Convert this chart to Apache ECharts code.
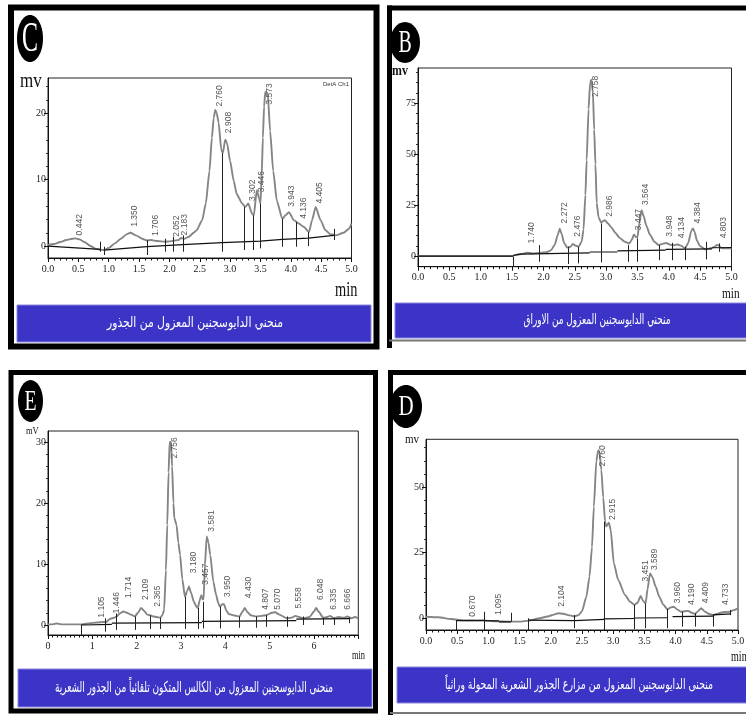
<!DOCTYPE html>
<html><head><meta charset="utf-8">
<script src="https://cdn.jsdelivr.net/npm/echarts@6/dist/echarts.min.js"></script>
<style>html,body{margin:0;padding:0;background:#fff}#c{width:746px;height:715px}</style>
</head><body><div id="c"></div>
<script>
// ---------- Panel C (roots) ----------
const C_curve = [[0.00,0.15],[0.10,0.3],[0.20,0.6],[0.30,0.9],[0.40,1.1],[0.45,1.15],[0.52,1.0],[0.60,0.6],[0.70,0.0],[0.78,-0.4],[0.86,-0.55],[0.92,-0.6],[1.00,-0.3],[1.10,0.4],[1.20,1.1],[1.30,1.8],[1.36,2.0],[1.45,1.6],[1.55,1.1],[1.63,0.85],[1.70,0.9],[1.80,0.75],[1.93,0.65],[2.00,0.7],[2.07,0.8],[2.15,0.9],[2.19,1.2],[2.25,1.1],[2.32,1.4],[2.40,2.0],[2.45,2.4],[2.54,3.9],[2.60,6.4],[2.66,11.3],[2.70,16.3],[2.73,19.3],[2.755,20.5],[2.78,20.0],[2.81,18.6],[2.855,14.5],[2.88,14.0],[2.92,16.0],[2.95,15.5],[3.00,12.8],[3.06,9.8],[3.11,7.8],[3.20,6.4],[3.25,5.9],[3.30,6.4],[3.36,4.9],[3.39,4.6],[3.44,8.4],[3.48,7.1],[3.50,6.4],[3.52,10.5],[3.54,16.3],[3.56,21],[3.58,23.2],[3.62,23.0],[3.66,17.3],[3.71,11.3],[3.77,6.8],[3.86,4.1],[3.92,4.7],[3.97,5.1],[4.05,3.9],[4.13,3.4],[4.21,2.9],[4.30,2.1],[4.35,3.9],[4.41,5.9],[4.49,3.9],[4.57,2.4],[4.65,1.8],[4.74,1.6],[4.87,2.0],[4.96,2.6],[5.00,3.4]];
const C_base = [[[0,0],[0.86,-0.5]],[[0.92,-0.6],[1.63,-0.1],[2.22,0.2],[2.87,0.5],[3.50,0.75],[3.86,1.0],[4.29,1.2],[4.71,1.6]]];
const C_drops = [[0.86,-0.85,0.65],[0.92,-1.35,-0.1],[1.63,-1.35,0.9],[1.93,-0.85,1.1],[2.07,-0.85,1.4],[2.22,-0.85,1.6],[2.87,-0.85,14.0],[3.24,-0.6,5.9],[3.38,-0.6,4.6],[3.50,-0.35,6.4],[3.86,-0.1,4.1],[4.09,-0.1,3.6],[4.29,0,2.1],[4.71,0.9,2.6]];
const C_peaks = [[0.442,1.6,'0.442'],[1.350,2.9,'1.350'],[1.706,1.5,'1.706'],[2.052,1.4,'2.052'],[2.183,1.6,'2.183'],[2.760,21.0,'2.760'],[2.908,17.0,'2.908'],[3.302,6.8,'3.302'],[3.446,8.1,'3.446'],[3.573,21.3,'3.573'],[3.943,5.9,'3.943'],[4.136,4.1,'4.136'],[4.405,6.4,'4.405']];
const C_yTicks = [0,10,20];
const C_yMinor = [2,4,6,8,12,14,16,18,22,24];

// ---------- Panel B (leaves) ----------
const B_curve = [[0,0],[0.5,0],[1.0,0],[1.5,0],[1.55,0.6],[1.65,1.0],[1.74,1.7],[1.82,1.3],[1.95,1.6],[2.05,1.9],[2.12,2.8],[2.18,5.5],[2.23,10.5],[2.26,13.4],[2.29,11],[2.33,6.5],[2.38,4.2],[2.43,4.5],[2.47,5.9],[2.51,5.2],[2.56,4.6],[2.61,7.0],[2.64,13],[2.67,30],[2.69,47],[2.72,72],[2.745,85],[2.765,86.5],[2.79,80],[2.81,62],[2.83,45],[2.85,26],[2.88,19],[2.92,16.5],[2.98,17.6],[3.03,16],[3.08,14.2],[3.15,11.3],[3.22,8.8],[3.30,7.0],[3.37,6.2],[3.41,8],[3.445,10.6],[3.47,9.5],[3.50,9.2],[3.53,16],[3.565,22.5],[3.60,19.5],[3.64,15],[3.70,10.5],[3.77,7],[3.84,5.4],[3.90,6.0],[3.96,6.4],[4.02,5.6],[4.08,5.3],[4.14,5.7],[4.20,5.0],[4.26,3.8],[4.31,6.5],[4.36,12.5],[4.385,13.6],[4.41,12],[4.45,7.5],[4.50,4.8],[4.58,3.3],[4.65,3.8],[4.72,4.3],[4.77,5.5],[4.80,5.2],[4.83,3.9],[4.9,3.8],[5.0,3.8]];
const B_base = [[[0,0],[1.52,0]],[[1.52,0.3],[1.63,1.0],[2.74,1.6]],[[2.74,2.0],[3.18,2.0]],[[3.18,2.6],[3.95,2.9]],[[3.95,3.3],[4.69,3.5]],[[4.69,4.1],[5.0,4.2]]];
const B_drops = [[1.52,-4.9,-0.3],[1.94,-2.8,5.4],[2.40,-3.9,4.6],[2.55,-3.6,4.6],[2.92,-3.1,16],[3.36,-2.8,5.4],[3.49,-2.8,8.7],[3.84,-2.0,5.4],[4.05,-2.0,6.5],[4.26,-2.0,4.6],[4.60,-1.6,7.0],[4.80,2.1,6.2]];
const B_peaks = [[1.740,6.2,'1.740'],[2.272,16,'2.272'],[2.476,9.5,'2.476'],[2.758,78,'2.758'],[2.986,19.3,'2.986'],[3.447,12.7,'3.447'],[3.564,25,'3.564'],[3.948,9.5,'3.948'],[4.134,8.7,'4.134'],[4.384,16,'4.384'],[4.803,8.7,'4.803']];
const B_yTicks = [0,25,50,75];
const B_yMinor = [5,10,15,20,30,35,40,45,55,60,65,70,80,85,90];

// ---------- Panel E (callus) ----------
const E_curve = [[0,0.1],[0.1,0.1],[0.2,0.25],[0.3,0.1],[0.5,0.1],[0.76,0.1],[0.95,0.3],[1.1,0.4],[1.25,0.5],[1.32,0.5],[1.38,0.9],[1.44,1.1],[1.50,1.2],[1.55,1.4],[1.62,1.9],[1.70,2.2],[1.78,2.0],[1.87,1.7],[1.96,1.4],[2.03,2.0],[2.10,2.8],[2.17,2.3],[2.24,1.7],[2.30,1.6],[2.38,1.4],[2.45,1.3],[2.53,1.2],[2.58,1.6],[2.62,2.5],[2.66,9],[2.69,16.4],[2.72,25],[2.745,30],[2.775,30],[2.80,26],[2.83,20],[2.85,17.5],[2.90,16.4],[2.94,13.5],[2.98,11.5],[3.03,7.5],[3.09,4.6],[3.14,5.6],[3.18,6.3],[3.23,5.2],[3.29,3.8],[3.35,3.0],[3.38,2.8],[3.42,4.0],[3.46,4.9],[3.49,4.2],[3.51,4.2],[3.54,9.8],[3.58,14.5],[3.62,13.5],[3.66,11.5],[3.73,7.1],[3.79,5.0],[3.84,3.6],[3.88,3.0],[3.93,3.4],[3.97,3.4],[4.02,2.4],[4.08,1.8],[4.18,1.6],[4.32,1.4],[4.39,2.2],[4.44,2.8],[4.50,2.1],[4.57,1.6],[4.70,1.4],[4.82,1.5],[4.92,1.6],[5.05,2.0],[5.12,2.1],[5.22,1.7],[5.39,1.1],[5.50,1.2],[5.58,1.5],[5.66,1.3],[5.76,1.1],[5.90,1.3],[6.00,2.2],[6.05,2.8],[6.10,2.2],[6.21,1.2],[6.30,1.3],[6.36,1.5],[6.45,1.1],[6.55,1.3],[6.68,1.2],[6.75,1.4],[6.85,1.1],[6.92,1.3],[7.0,1.1]];
const E_base = [[[0.76,0],[1.44,0.1]],[[1.44,0.3],[3.47,0.4]],[[3.47,0.6],[5.60,0.7]],[[5.60,0.95],[6.82,1.05]]];
const E_drops = [[0.76,-1.6,0.1],[1.30,-1.1,1.1],[1.55,-0.8,1.9],[1.96,-0.8,1.4],[2.30,-0.65,1.6],[2.53,-0.65,1.2],[3.09,-0.65,4.6],[3.38,-0.65,2.8],[3.51,-0.55,3.8],[3.88,-0.55,3.0],[4.32,-0.45,1.4],[4.70,-0.45,1.4],[4.92,-0.3,1.6],[5.39,-0.3,1.4],[5.76,0,1.4],[6.21,0,1.2],[6.45,0,1.2],[6.80,0.3,1.2]];
const E_peaks = [[1.105,1.2,'1.105'],[1.446,1.9,'1.446'],[1.714,4.4,'1.714'],[2.109,4.1,'2.109'],[2.365,3.0,'2.365'],[2.756,27.3,'2.756'],[3.180,8.5,'3.180'],[3.457,6.6,'3.457'],[3.581,15.3,'3.581'],[3.950,4.6,'3.950'],[4.430,4.4,'4.430'],[4.807,2.5,'4.807'],[5.070,2.5,'5.070'],[5.558,2.7,'5.558'],[6.048,4.1,'6.048'],[6.335,2.5,'6.335'],[6.666,2.5,'6.666']];
const E_yTicks = [0,10,20,30];
const E_yMinor = [2,4,6,8,12,14,16,18,22,24,26,28];

// ---------- Panel D (hairy roots) ----------
const D_curve = [[0,0.5],[0.2,0.3],[0.4,-0.4],[0.6,-0.9],[0.8,-1.0],[0.95,-1.0],[1.15,-1.3],[1.3,-1.4],[1.5,-1.4],[1.65,-1.0],[1.8,-0.2],[1.95,0.6],[2.05,1.3],[2.12,1.8],[2.2,1.6],[2.3,1.0],[2.38,0.6],[2.45,1.2],[2.5,2.6],[2.57,8.1],[2.62,15.8],[2.66,27],[2.69,42.5],[2.73,60],[2.76,64],[2.78,63.5],[2.81,56.5],[2.84,46],[2.87,36.8],[2.89,34.9],[2.93,36.4],[2.96,33.6],[3.01,20.9],[3.08,14.5],[3.19,8.8],[3.27,6.2],[3.34,5.0],[3.39,5.8],[3.44,8.4],[3.48,6.5],[3.52,5.6],[3.55,11],[3.59,17],[3.63,15.5],[3.68,12],[3.74,8],[3.80,5.2],[3.87,3.3],[3.92,4.0],[3.97,4.3],[4.03,3.2],[4.09,2.4],[4.15,2.6],[4.20,2.7],[4.26,2.0],[4.31,1.5],[4.36,2.6],[4.41,3.7],[4.46,2.6],[4.53,1.6],[4.60,1.1],[4.67,1.6],[4.73,2.1],[4.80,2.3],[4.87,2.4],[4.93,3.0],[5.0,3.7]];
const D_base = [[[0.49,-1.0],[0.93,-0.9]],[[0.93,-1.0],[1.17,-1.1]],[[1.17,-1.5],[1.36,-1.5]],[[1.64,-0.8],[2.38,-1.0],[2.86,-0.5]],[[2.86,-0.3],[3.34,-0.2]],[[3.34,0.0],[3.87,0.1]],[[3.95,0.5],[4.60,0.7]],[[4.60,1.2],[4.89,1.6]]];
const D_drops = [[0.49,-4.6,-0.8],[0.93,-4.6,2.4],[1.36,-1.4,2.0],[1.64,-4.6,-0.1],[2.37,-3.9,1.1],[2.86,-4.6,36.8],[3.34,-4.3,5.0],[3.52,-3.9,5.6],[3.87,-3.9,3.5],[4.10,-3.3,2.4],[4.31,-3.3,1.8],[4.60,-3.3,1.5],[4.88,1.1,3.1]];
const D_peaks = [[0.670,0.5,'0.670'],[1.095,1.1,'1.095'],[2.104,4.3,'2.104'],[2.760,57.8,'2.760'],[2.915,37.4,'2.915'],[3.451,13.9,'3.451'],[3.589,18.3,'3.589'],[3.960,5.6,'3.960'],[4.190,5.0,'4.190'],[4.409,5.6,'4.409'],[4.733,5.0,'4.733']];
const D_yTicks = [0,25,50];
const D_yMinor = [5,10,15,20,30,35,40,45,55,60,65];

const captions = {
  C: 'منحني الدايوسجنين المعزول من الجذور',
  B: 'منحني الدايوسجنين المعزول من الاوراق',
  E: 'منحنى الدايوسجنين المعزول من الكالس المتكون تلقائياً من الجذور الشعرية',
  D: 'منحنى الدايوسجنين المعزول من مزارع الجذور الشعرية المحولة وراثياً'
};

const panels = [
  {grid:{left:48,top:78,width:303.5,height:180}, xmax:5, xint:0.5, xsplit:5, xfmt:v=>v.toFixed(1), ymin:-1.8, ymax:25.3, yT:C_yTicks, yM:C_yMinor, curve:C_curve, base:C_base, drops:C_drops, peaks:C_peaks},
  {grid:{left:418,top:68,width:313.5,height:198.7}, xmax:5, xint:0.5, xsplit:5, xfmt:v=>v.toFixed(1), ymin:-5.2, ymax:92.2, yT:B_yTicks, yM:B_yMinor, curve:B_curve, base:B_base, drops:B_drops, peaks:B_peaks},
  {grid:{left:48,top:431,width:310.3,height:204}, xmax:7, xint:1, xsplit:10, xfmt:v=>v===7?'':String(v), ymin:-1.64, ymax:31.8, yT:E_yTicks, yM:E_yMinor, curve:E_curve, base:E_base, drops:E_drops, peaks:E_peaks},
  {grid:{left:426,top:439.3,width:312,height:190.7}, xmax:5, xint:0.5, xsplit:5, xfmt:v=>v.toFixed(1), ymin:-4.58, ymax:68.2, yT:D_yTicks, yM:D_yMinor, curve:D_curve, base:D_base, drops:D_drops, peaks:D_peaks}
];

const grids=[], xAxes=[], yAxes=[], series=[];
const serif = 'Liberation Serif';
panels.forEach((p,i)=>{
  grids.push(Object.assign({show:true,borderColor:'#222',borderWidth:1,backgroundColor:'transparent',containLabel:false,outerBoundsMode:'none'}, p.grid));
  xAxes.push({type:'value',gridIndex:i,min:0,max:p.xmax,interval:p.xint,
    axisLine:{show:true,onZero:false,lineStyle:{color:'#111',width:1}},
    axisTick:{show:true,length:4,lineStyle:{color:'#111'}},
    minorTick:{show:true,splitNumber:p.xsplit,length:2.5,lineStyle:{color:'#111'}},
    splitLine:{show:false},minorSplitLine:{show:false},
    axisLabel:{formatter:p.xfmt,fontFamily:serif,fontSize:10,color:'#222',margin:6,showMinLabel:true,showMaxLabel:true}});
  yAxes.push({type:'value',gridIndex:i,min:p.ymin,max:p.ymax,position:'left',
    axisLine:{show:true,onZero:false,lineStyle:{color:'#111',width:1}},
    axisTick:{show:true,length:4,customValues:p.yT,lineStyle:{color:'#111'}},
    axisLabel:{customValues:p.yT,fontFamily:serif,fontSize:10,color:'#222',margin:2},
    splitLine:{show:false}});
  yAxes.push({type:'value',gridIndex:i,min:p.ymin,max:p.ymax,position:'left',
    axisLine:{show:false},
    axisTick:{show:true,length:2,customValues:p.yM,lineStyle:{color:'#333'}},
    axisLabel:{show:false},splitLine:{show:false}});
  series.push({type:'line',xAxisIndex:i,yAxisIndex:2*i,data:p.curve,showSymbol:false,symbol:'none',smooth:0.2,smoothMonotone:'x',
    lineStyle:{color:'#858585',width:1.9},z:2,silent:true});
  series.push({type:'lines',coordinateSystem:'cartesian2d',xAxisIndex:i,yAxisIndex:2*i,polyline:true,
    data:p.base.map(s=>({coords:s})),lineStyle:{color:'#111',width:1.2,opacity:1},z:3,silent:true});
  series.push({type:'lines',coordinateSystem:'cartesian2d',xAxisIndex:i,yAxisIndex:2*i,
    data:p.drops.map(d=>({coords:[[d[0],d[1]],[d[0],d[2]]]})),lineStyle:{color:'#222',width:1,opacity:1},z:3,silent:true});
  const pk = p.peaks;
  series.push({type:'custom',xAxisIndex:i,yAxisIndex:2*i,data:pk.map(q=>[q[0],q[1]]),clip:false,silent:true,z:5,
    renderItem:(params,api)=>{
      const pt = api.coord([api.value(0),api.value(1)]);
      return {type:'text',x:pt[0],y:pt[1],rotation:Math.PI/2,
        style:{text:pk[params.dataIndex][2],fill:'#555',fontSize:8.5,fontFamily:'Liberation Sans',align:'left',verticalAlign:'top'}};
    }});
});

const blue = '#3b34c6';
const measureCtx = document.createElement('canvas').getContext('2d');
function fitScale(txt,fs,target){
  measureCtx.font = fs+'px "DejaVu Sans"';
  const w = measureCtx.measureText(txt).width || target;
  return target / w;
}
function banner(x,y,w,h,txt,fs,cx,target){
  const sx = fitScale(txt,fs,target);
  return [
    {type:'rect',shape:{x:x,y:y,width:w,height:h},style:{fill:blue,stroke:'#8c88dd',lineWidth:1},z:1},
    {type:'text',x:cx,y:y+h/2,scaleX:sx,style:{text:txt,fill:'#fff',fontSize:fs,fontFamily:'DejaVu Sans',align:'center',verticalAlign:'middle'},z:2}
  ];
}
function badge(cx,cy,rx,ry,letter,fs,sx){
  return [
    {type:'ellipse',shape:{cx:cx,cy:cy,rx:rx,ry:ry},style:{fill:'#000'},z:1},
    {type:'text',x:cx,y:cy+1,scaleX:sx,style:{text:letter,fill:'#fff',fontSize:fs,fontFamily:serif,align:'center',verticalAlign:'middle'},z:2}
  ];
}
function label(x,y,txt,fs,sx,bold){
  return {type:'text',x:x,y:y,scaleX:sx,style:{text:txt,fill:'#111',fontSize:fs,fontFamily:serif,fontWeight:bold?'bold':'normal',align:'left',verticalAlign:'middle'},z:2};
}

const graphics = [
  {type:'rect',shape:{x:11,y:7.5,width:365.5,height:339},style:{fill:'none',stroke:'#000',lineWidth:6},z:1},
  {type:'line',shape:{x1:387,y1:8,x2:746,y2:8},style:{stroke:'#000',lineWidth:5},z:1},
  {type:'line',shape:{x1:389.5,y1:5.5,x2:389.5,y2:348},style:{stroke:'#000',lineWidth:5},z:1},
  {type:'line',shape:{x1:389,y1:340.5,x2:746,y2:340.5},style:{stroke:'#777',lineWidth:2},z:1},
  {type:'rect',shape:{x:11,y:372.5,width:364.5,height:338.5},style:{fill:'none',stroke:'#000',lineWidth:5},z:1},
  {type:'line',shape:{x1:388,y1:372.5,x2:746,y2:372.5},style:{stroke:'#000',lineWidth:5},z:1},
  {type:'line',shape:{x1:390.5,y1:370,x2:390.5,y2:715},style:{stroke:'#000',lineWidth:5},z:1},
  {type:'line',shape:{x1:390,y1:713,x2:746,y2:713},style:{stroke:'#777',lineWidth:2},z:1},
  ...badge(30,38.5,13,23.5,'C',42,0.57),
  ...badge(405,42.5,15,20.5,'B',32,0.62),
  ...badge(30.5,401,12.5,21,'E',30,0.66),
  ...badge(406,406.5,16,21.5,'D',30,0.7),
  ...banner(17,305,354,37,captions.C,14,195,176),
  ...banner(395,303,360,35,captions.B,14,597,147),
  ...banner(18,669,354,38,captions.E,15,194,278),
  ...banner(397,667,360,36,captions.D,14,579,268),
  label(20,82,'mv',20,0.85,false),
  label(335,291,'min',20,0.72,false),
  label(392,71,'mv',14,0.85,true),
  label(722,294,'min',15,0.75,false),
  label(26,431,'mV',10,0.85,false),
  label(352,656,'min',12,0.7,false),
  label(405,440,'mv',13,0.85,false),
  label(731,657,'min',14,0.72,false),
  {type:'text',x:323,y:84,style:{text:'DetA Ch1',fill:'#333',fontSize:6,fontFamily:'Liberation Sans',align:'left',verticalAlign:'middle'},z:2}
];

const chart = echarts.init(document.getElementById('c'),null,{renderer:'canvas'});
chart.setOption({animation:false,backgroundColor:'#fff',grid:grids,xAxis:xAxes,yAxis:yAxes,series:series,graphic:{elements:graphics}});
</script></body></html>
